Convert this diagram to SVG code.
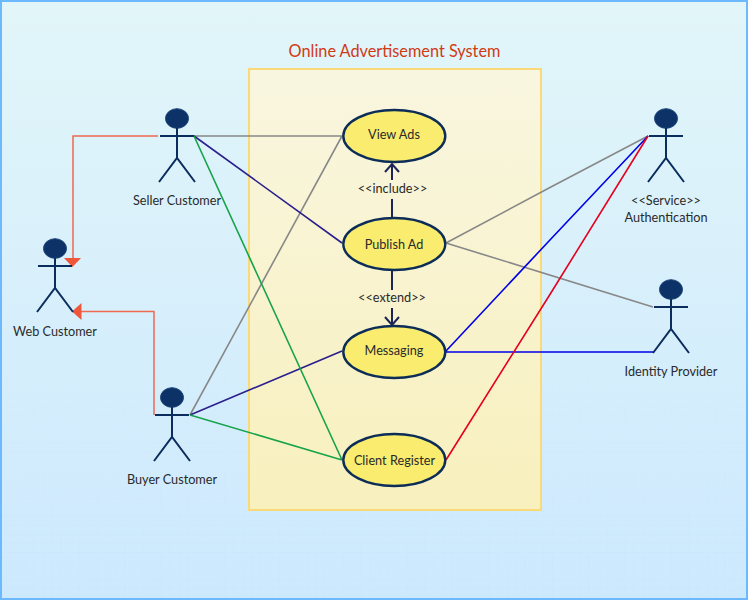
<svg xmlns="http://www.w3.org/2000/svg" width="748" height="601" viewBox="0 0 748 601">
<style>
text{font-family:"Lato","Noto Sans",sans-serif;font-size:12.7px;fill:#2a2a2a;text-anchor:middle}
.a{fill:none;stroke:#0b2d5e;stroke-width:2}
.h{fill:#0c3267;stroke:#1b4478;stroke-width:1}
.u{fill:#f9ec6f;stroke:#0c2d57;stroke-width:2.4}
.c{fill:none;stroke-width:1.6}
.d{fill:none;stroke:#1c2556;stroke-width:2}
.o{fill:none;stroke:#ee6a50;stroke-width:1.5}
</style>
<defs>
<linearGradient id="bg" x1="0" y1="0" x2="0" y2="1"><stop offset="0" stop-color="#e2f6f9"/><stop offset="1" stop-color="#cde9fe"/></linearGradient>
<linearGradient id="sys" x1="0" y1="0" x2="0" y2="1"><stop offset="0" stop-color="#f9f6e0"/><stop offset="1" stop-color="#f8f0bd"/></linearGradient>
<linearGradient id="fade" x1="0" y1="0" x2="0" y2="1"><stop offset="0.5" stop-color="#000"/><stop offset="1" stop-color="#fff"/></linearGradient>
<pattern id="grid" x="6" y="6" width="9.1" height="9.1" patternUnits="userSpaceOnUse"><path d="M0 0V9.100M0 0H9.100" fill="none" stroke="#9cc4e6" stroke-width="1" stroke-opacity="0.07"/></pattern>
<mask id="m"><rect width="748" height="601" fill="url(#fade)"/></mask>
<g id="actor"><ellipse class="h" cx="0" cy="-17.500" rx="11.500" ry="9.800"/><path class="a" d="M0-8V22M-17 0H17M-18 46L0 22L18 46"/></g>
</defs>
<rect x="1" y="1" width="746" height="598" fill="url(#bg)" stroke="#6cb9fd" stroke-width="2"/>
<rect x="2" y="2" width="744" height="596" fill="url(#grid)" mask="url(#m)"/>
<rect id="system" x="249" y="69" width="292" height="441" fill="url(#sys)" stroke="#fcd977" stroke-width="2"/>
<text x="394.500" y="57" style="font-size:16.300px;fill:#d03a14">Online Advertisement System</text>
<g id="connectors">
<path class="o" d="M158 136H73V262"/><path d="M64 258H81L72.500 267Z" fill="#f0563a"/>
<path class="o" d="M154 415V311.500H78"/><path d="M81.500 303V320L72 311.500Z" fill="#f0563a"/>
<path class="c" stroke="#888" d="M194 136H342M190 415L342 136M446 243L549 188L648 136M446 243L653 307"/>
<path class="c" stroke="#2a1f8c" d="M194 136L342 243M190 415L342 351"/>
<path class="c" stroke="#16a34a" d="M194 136L342 460M190 415L342 460"/>
<path class="c" stroke="#0000e8" d="M446 351L549 241L648 136M446 352H653"/>
<path class="c" stroke="#e6001f" stroke-width="2" d="M446 460L549 296L648 136"/>
<path class="d" d="M392 199V217M392 180V164M385 172L392 164L399 172"/>
<path class="d" d="M392 270V290M392 308V325M385 317L392 325L399 317"/>
</g>
<g id="view-ads"><ellipse class="u" cx="394.300" cy="136" rx="51" ry="26"/><text x="394" y="139">View Ads</text></g>
<g id="publish-ad"><ellipse class="u" cx="394.300" cy="244" rx="51" ry="26"/><text x="394" y="249">Publish Ad</text></g>
<g id="messaging"><ellipse class="u" cx="394.300" cy="352" rx="51" ry="26"/><text x="394" y="355">Messaging</text></g>
<g id="client-register"><ellipse class="u" cx="394.300" cy="460" rx="51" ry="26"/><text x="394.500" y="465">Client Register</text></g>
<text x="392.500" y="193">&lt;&lt;include&gt;&gt;</text>
<text x="392" y="302">&lt;&lt;extend&gt;&gt;</text>
<g id="seller-customer"><use href="#actor" x="177" y="136"/><text x="177" y="205">Seller Customer</text></g>
<g id="web-customer"><use href="#actor" x="55" y="266"/><text x="55" y="336">Web Customer</text></g>
<g id="buyer-customer"><use href="#actor" x="172" y="415"/><text x="172" y="484">Buyer Customer</text></g>
<g id="authentication"><use href="#actor" x="666" y="136"/><text x="666" y="205">&lt;&lt;Service&gt;&gt;</text><text x="666" y="222">Authentication</text></g>
<g id="identity-provider"><use href="#actor" x="671" y="307"/><text x="671" y="376">Identity Provider</text></g>
</svg>
